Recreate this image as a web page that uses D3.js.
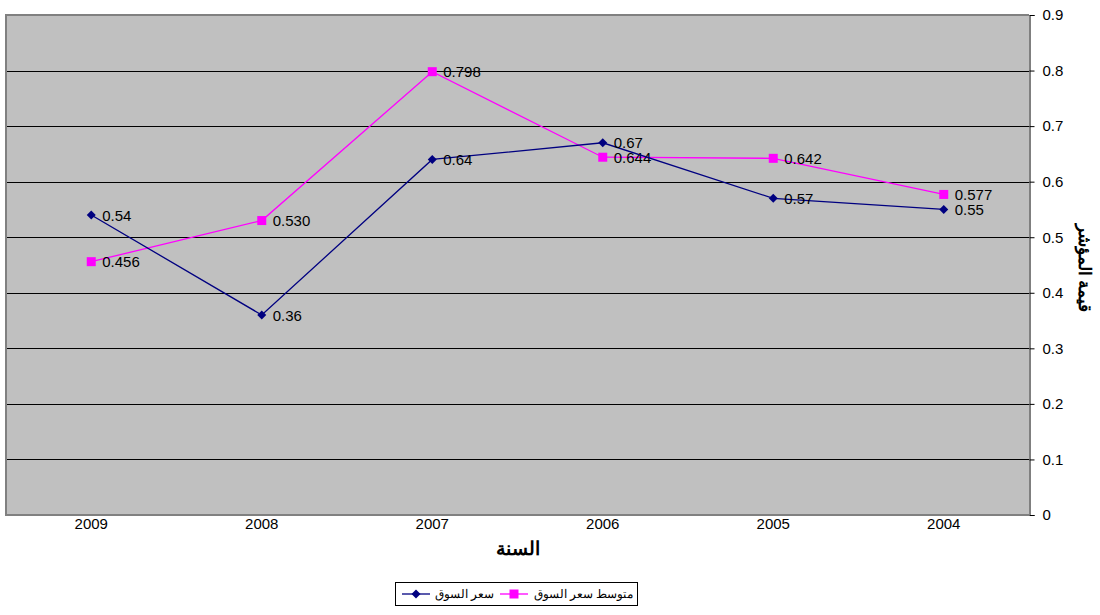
<!DOCTYPE html>
<html>
<head>
<meta charset="utf-8">
<script src="https://cdn.jsdelivr.net/npm/d3@7"></script>
<style>
  html, body { margin: 0; padding: 0; background: #fff; }
  svg { display: block; }
</style>
</head>
<body>
<svg id="chart" width="1100" height="615"></svg>
<script>
// Years shown along the x axis (right-to-left reading order)
const years = ["2009", "2008", "2007", "2006", "2005", "2004"];
// Market price
const marketPrice = [0.54, 0.36, 0.64, 0.67, 0.57, 0.55];
const marketPriceLabels = ["0.54", "0.36", "0.64", "0.67", "0.57", "0.55"];
// Average market price
const avgMarketPrice = [0.456, 0.530, 0.798, 0.644, 0.642, 0.577];
const avgMarketPriceLabels = ["0.456", "0.530", "0.798", "0.644", "0.642", "0.577"];
// Y axis ticks
const yTicks = [0, 0.1, 0.2, 0.3, 0.4, 0.5, 0.6, 0.7, 0.8, 0.9];

const svg = d3.select("#chart");
const plot = { left: 6, right: 1029, top: 15, bottom: 515 };
const sans = "Liberation Sans, Arial, sans-serif";

const x = d3.scaleBand().domain(years).range([plot.left, plot.right]);
const xc = d => x(d) + x.bandwidth() / 2;
const y = d3.scaleLinear().domain([0, 0.9]).range([plot.bottom, plot.top]);

// Plot background
svg.append("rect")
  .attr("x", plot.left).attr("y", plot.top)
  .attr("width", plot.right - plot.left).attr("height", plot.bottom - plot.top)
  .attr("fill", "#c0c0c0");

// Horizontal gridlines
svg.append("g").selectAll("line")
  .data(yTicks.filter(t => t > 0 && t < 0.9))
  .join("line")
  .attr("x1", plot.left).attr("x2", plot.right)
  .attr("y1", d => Math.round(y(d)) + 0.5).attr("y2", d => Math.round(y(d)) + 0.5)
  .attr("stroke", "#000").attr("stroke-width", 1);

// Frame: gray top, left and bottom edges
svg.append("path")
  .attr("d", `M${plot.right},${plot.top} H${plot.left} V${plot.bottom} H${plot.right}`)
  .attr("fill", "none").attr("stroke", "#808080").attr("stroke-width", 2);

// Right value axis
const yAxis = d3.axisRight(y).tickValues(yTicks).tickSize(5).tickPadding(8)
  .tickFormat(d => d === 0 ? "0" : d3.format(".1f")(d));
const ya = svg.append("g").attr("transform", `translate(${plot.right + 0.5},0)`).call(yAxis);
ya.select(".domain").attr("stroke", "#000");
ya.selectAll(".tick line").attr("stroke", "#000");
ya.selectAll(".tick text").attr("font-family", sans)
  .attr("font-size", 15).attr("fill", "#000");

// Category labels
svg.append("g").selectAll("text")
  .data(years).join("text")
  .attr("x", d => xc(d)).attr("y", 529)
  .attr("text-anchor", "middle")
  .attr("font-family", sans)
  .attr("font-size", 15).attr("fill", "#000")
  .text(d => d);

// Axis titles
svg.append("text")
  .attr("x", 518).attr("y", 555)
  .attr("text-anchor", "middle")
  .attr("font-family", sans)
  .attr("font-size", 19).attr("font-weight", "bold")
  .text("السنة");

svg.append("text")
  .attr("transform", "translate(1079,268) rotate(90)")
  .attr("text-anchor", "middle")
  .attr("font-family", sans)
  .attr("font-size", 17).attr("font-weight", "bold")
  .text("قيمة المؤشر");

const series = [
  { name: "متوسط سعر السوق", values: avgMarketPrice, labels: avgMarketPriceLabels, color: "#ff00ff", shape: "square" },
  { name: "سعر السوق", values: marketPrice, labels: marketPriceLabels, color: "#000080", shape: "diamond" }
];

const line = d3.line().x((d, i) => xc(years[i])).y(d => y(d));

function marker(g, shape, color, cx, cy) {
  if (shape === "square") {
    g.append("rect").attr("x", cx - 4.5).attr("y", cy - 4.5)
      .attr("width", 9).attr("height", 9).attr("fill", color);
  } else {
    g.append("path").attr("d", `M${cx},${cy - 4.5} L${cx + 4.5},${cy} L${cx},${cy + 4.5} L${cx - 4.5},${cy} Z`)
      .attr("fill", color);
  }
}

series.forEach(s => {
  const g = svg.append("g");
  g.append("path").datum(s.values).attr("d", line)
    .attr("fill", "none").attr("stroke", s.color).attr("stroke-width", 1.3);
  s.values.forEach((v, i) => marker(g, s.shape, s.color, xc(years[i]), y(v)));
  g.selectAll("text.lbl").data(s.values).join("text")
    .attr("class", "lbl")
    .attr("x", (d, i) => xc(years[i]) + 11)
    .attr("y", d => y(d) + 5.5)
    .attr("font-family", sans)
    .attr("font-size", 15).attr("fill", "#000")
    .text((d, i) => s.labels[i]);
});

// Legend
const lg = svg.append("g");
lg.append("rect").attr("x", 395.5).attr("y", 582.5).attr("width", 242).attr("height", 23)
  .attr("fill", "#fff").attr("stroke", "#000").attr("stroke-width", 1);
const legendItems = [
  { s: series[1], lx: 402, tx: 494 },
  { s: series[0], lx: 500, tx: 633 }
];
legendItems.forEach(it => {
  lg.append("line").attr("x1", it.lx).attr("x2", it.lx + 28)
    .attr("y1", 594).attr("y2", 594).attr("stroke", it.s.color).attr("stroke-width", 1.3);
  marker(lg, it.s.shape, it.s.color, it.lx + 14, 594);
  lg.append("text").attr("x", it.tx).attr("y", 598)
    .attr("text-anchor", "end")
    .attr("font-family", "Liberation Serif, Times New Roman, serif")
    .attr("font-size", 12).attr("fill", "#000")
    .text(it.s.name);
});
</script>
</body>
</html>
